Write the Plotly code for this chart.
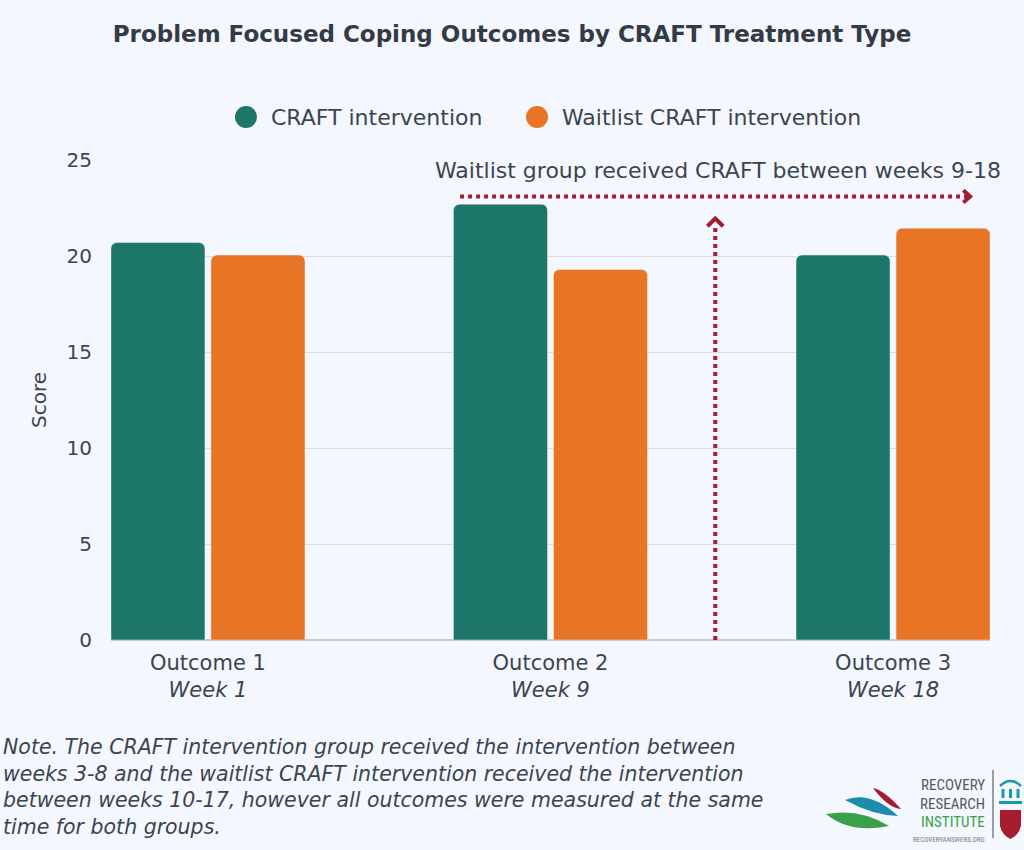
import plotly.graph_objects as go

# data
outcomes = ["Outcome 1", "Outcome 2", "Outcome 3"]
weeks = ["Week 1", "Week 9", "Week 18"]
craft = [20.7, 22.7, 20.05]
waitlist = [20.05, 19.3, 21.45]
series_names = ["CRAFT intervention", "Waitlist CRAFT intervention"]
colors = ["#1d7768", "#e87425"]
arrow_col = "#a51c30"
txt_col = "#3b4550"
body_font = "DejaVu Sans"

# pixel -> paper helpers (plot area is 111..990 x 160..640)
def xp(px):
    return (px - 111) / 879.0

def yp(py):
    return (640 - py) / 480.0

fig = go.Figure()
for name, vals, col in zip(series_names, [craft, waitlist], colors):
    fig.add_trace(go.Bar(x=outcomes, y=vals, name=name, marker_color=col,
                         showlegend=False, hovertemplate="%{x}: %{y}<extra>" + name + "</extra>"))

ticktext = [f"{o}<br><i>{w}</i>" for o, w in zip(outcomes, weeks)]

shapes = []
annots = []

# dotted arrows (data coords)
shapes.append(dict(type="line", xref="x", yref="y", x0=0.736, x1=2.218, y0=23.1, y1=23.1,
                   line=dict(color=arrow_col, width=4, dash="4px,4px")))
shapes.append(dict(type="path", xref="x", yref="y",
                   path="M 2.205 23.42 L 2.225 23.1 L 2.205 22.78",
                   line=dict(color=arrow_col, width=4)))
shapes.append(dict(type="line", xref="x", yref="y", x0=1.481, x1=1.481, y0=0, y1=21.6,
                   line=dict(color=arrow_col, width=4, dash="4px,4px")))
shapes.append(dict(type="path", xref="x", yref="y",
                   path="M 1.458 21.55 L 1.481 21.95 L 1.504 21.55",
                   line=dict(color=arrow_col, width=4)))

annots.append(dict(x=xp(1003), y=yp(170), xref="paper", yref="paper", xanchor="right", yanchor="middle",
                   text="Waitlist group received CRAFT between weeks 9-18", showarrow=False,
                   font=dict(size=22, color=txt_col, family=body_font)))

# legend drawn by hand so the circles match the reference size
leg_x = [246, 537]
for name, col, lx in zip(series_names, colors, leg_x):
    shapes.append(dict(type="circle", xref="paper", yref="paper", xsizemode="pixel", ysizemode="pixel",
                       xanchor=xp(lx), yanchor=yp(117), x0=-11, x1=11, y0=-11, y1=11,
                       fillcolor=col, line=dict(width=0)))
    annots.append(dict(x=xp(lx + 23), y=yp(117), xref="paper", yref="paper", xanchor="left",
                       yanchor="middle", text=name, showarrow=False,
                       font=dict(size=22, color=txt_col, family=body_font)))

# note
note = ("Note. The CRAFT intervention group received the intervention between<br>"
        "weeks 3-8 and the waitlist CRAFT intervention received the intervention<br>"
        "between weeks 10-17, however all outcomes were measured at the same<br>"
        "time for both groups.")
annots.append(dict(x=xp(1), y=yp(733), xref="paper", yref="paper", xanchor="left", yanchor="top",
                   align="left", text=f"<i>{note}</i>", showarrow=False,
                   font=dict(size=20.5, color=txt_col, family=body_font)))

# logo: leaves, words, divider, icons
def leaf(p0, p1, c1, c2, col):
    path = (f"M {xp(p0[0])} {yp(p0[1])} Q {xp(c1[0])} {yp(c1[1])} {xp(p1[0])} {yp(p1[1])} "
            f"Q {xp(c2[0])} {yp(c2[1])} {xp(p0[0])} {yp(p0[1])} Z")
    return dict(type="path", xref="paper", yref="paper", path=path, fillcolor=col, line=dict(width=0))

shapes.append(leaf((873, 788), (901, 809), (884, 790), (888, 808), "#a51c30"))
shapes.append(leaf((845, 800), (898, 816), (870, 790), (872, 815), "#1b8cab"))
shapes.append(leaf((826, 814), (889, 826), (860, 808), (850, 834), "#3aa14a"))
shapes.append(dict(type="line", xref="paper", yref="paper", x0=xp(993), x1=xp(993), y0=yp(770), y1=yp(838),
                   line=dict(color="#7a7f86", width=1.5)))
# building icon
shapes.append(dict(type="path", xref="paper", yref="paper",
                   path=f"M {xp(1000)} {yp(786)} Q {xp(1010.5)} {yp(776)} {xp(1021)} {yp(786)}",
                   line=dict(color="#1a9aa8", width=2.5)))
for cx in [1003, 1010.5, 1018]:
    shapes.append(dict(type="rect", xref="paper", yref="paper", x0=xp(cx - 1.5), x1=xp(cx + 1.5),
                       y0=yp(798), y1=yp(789), fillcolor="#1a9aa8", line=dict(width=0)))
shapes.append(dict(type="rect", xref="paper", yref="paper", x0=xp(999), x1=xp(1022), y0=yp(804), y1=yp(801),
                   fillcolor="#1a9aa8", line=dict(width=0)))
shapes.append(dict(type="path", xref="paper", yref="paper",
                   path=(f"M {xp(1000)} {yp(810)} L {xp(1021)} {yp(810)} L {xp(1021)} {yp(826)} "
                         f"Q {xp(1019)} {yp(835)} {xp(1010.5)} {yp(839)} Q {xp(1002)} {yp(835)} {xp(1000)} {yp(826)} Z"),
                   fillcolor="#a51c30", line=dict(width=0)))

logo_words = [("RECOVERY", 785, "#555a60", 15), ("RESEARCH", 804, "#555a60", 15),
              ("INSTITUTE", 822, "#3aa14a", 15), ("RECOVERYANSWERS.ORG", 840, "#777c82", 7)]
for word, wy, wc, ws in logo_words:
    annots.append(dict(x=xp(987), y=yp(wy), xref="paper", yref="paper", xanchor="right", yanchor="middle",
                       text=word, showarrow=False, font=dict(size=ws, color=wc, family="Roboto Condensed, Roboto")))

fig.update_layout(
    width=1024, height=850,
    margin=dict(l=111, r=34, t=160, b=210),
    paper_bgcolor="#f4f7fd", plot_bgcolor="rgba(0,0,0,0)",
    title=dict(text="<b>Problem Focused Coping Outcomes by CRAFT Treatment Type</b>",
               x=0.5, xanchor="center", y=1 - 34 / 850, yanchor="middle",
               font=dict(size=23, color="#333b44", family="DejaVu Sans")),
    font=dict(family=body_font, color=txt_col),
    barmode="group", bargap=0.416, bargroupgap=0.06, barcornerradius=6,
    shapes=shapes, annotations=annots,
)
fig.update_xaxes(type="category", range=[-0.283, 2.283], tickvals=outcomes, ticktext=ticktext,
                 tickfont=dict(size=21, color=txt_col), ticklabelstandoff=8,
                 showgrid=False, showline=False, zeroline=False)
fig.update_yaxes(range=[0, 25], dtick=5, showgrid=True, gridcolor="#d9dce3", gridwidth=1,
                 zeroline=True, zerolinecolor="#c9ccd3", zerolinewidth=1.5,
                 tickfont=dict(size=20, color=txt_col), ticklabelstandoff=18,
                 title=dict(text="Score", font=dict(size=20, color=txt_col), standoff=14))

fig.write_html("out.html", config={"displayModeBar": False},
               post_script="document.body.style.margin='0';")
